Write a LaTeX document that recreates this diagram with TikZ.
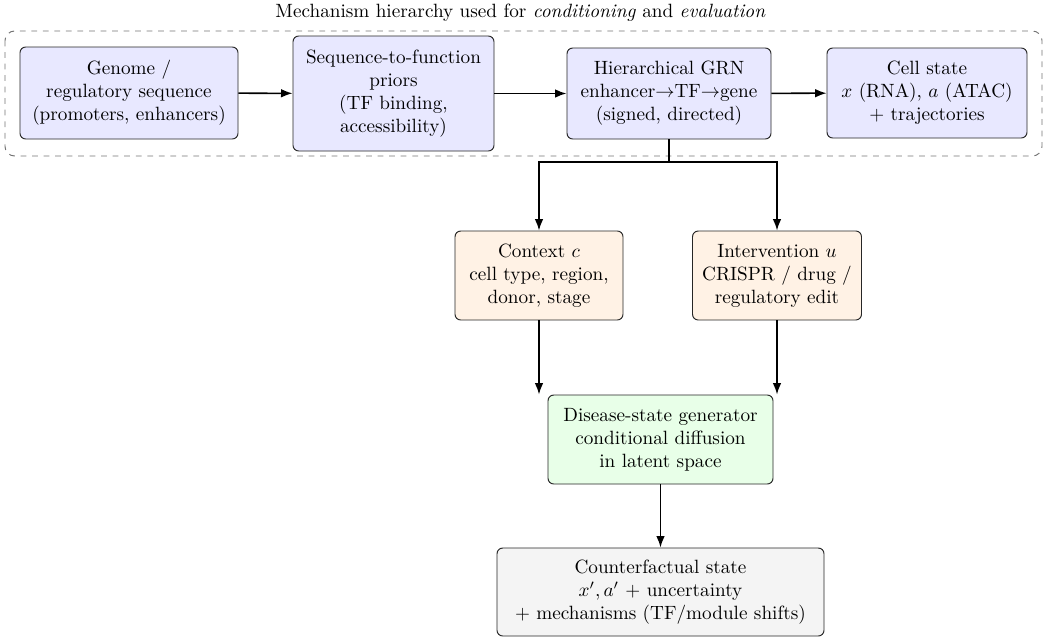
\documentclass[tikz,border=0pt]{standalone}
\usetikzlibrary{arrows.meta}
\begin{document}
\begin{tikzpicture}[x=0.5208pt,y=-0.5208pt,
  card/.style={draw=black!85, rounded corners=3pt, align=center, line width=0.5pt, inner sep=0pt},
  sz/.style 2 args={minimum width=#1*0.5208pt, minimum height=#2*0.5208pt},
  mech/.style={card, fill=blue!9},
  cond/.style={card, fill=orange!10},
  gen/.style={card, fill=green!9},
  outc/.style={card, fill=gray!9},
  flow/.style={-{Latex[length=6pt,width=4.5pt]}, line width=0.8pt},
  group/.style={draw=black!55, dashed, rounded corners=5pt, line width=0.5pt}]
\useasboundingbox (0,0) rectangle (1052,638);

% mechanism hierarchy group
\draw[group] (5,31) rectangle (1042,156);
\node (title) at (520.5,13) {Mechanism hierarchy used for \emph{conditioning} and \emph{evaluation}};

\node[mech, sz={218}{92}] (genome) at (129,93) {Genome /\\regulatory sequence\\(promoters, enhancers)};
\node[mech, sz={201}{115}] (seq) at (393.5,93.5) {Sequence-to-function\\priors\\(TF binding,\\accessibility)};
\node[mech, sz={204}{91}] (grn) at (669,93.5) {Hierarchical GRN\\enhancer$\to$TF$\to$gene\\(signed, directed)};
\node[mech, sz={200}{90}] (cell) at (927,93) {Cell state\\$x$ (RNA), $a$ (ATAC)\\+ trajectories};

% conditioning inputs
\node[cond, sz={168}{89}] (ctx) at (539,275.5) {Context $c$\\cell type, region,\\donor, stage};
\node[cond, sz={169}{89}] (int) at (777,275.5) {Intervention $u$\\CRISPR / drug /\\regulatory edit};

% generator and output
\node[gen, sz={225}{89}] (gen) at (660.5,439.5) {Disease-state generator\\conditional diffusion\\in latent space};
\node[outc, sz={327}{88}] (cf) at (660.5,592) {Counterfactual state\\$x',a'$ + uncertainty\\+ mechanisms (TF/module shifts)};

\coordinate (split) at (669,162);

\draw[flow] (genome) -- (seq);
\draw[flow] (seq) -- (grn);
\draw[flow] (grn) -- (cell);
\draw[line width=0.8pt] (grn.south) -- (split);
\draw[flow] (split) -| (ctx.north);
\draw[flow] (split) -| (int.north);
\draw[flow] (ctx.south) -- (ctx.south |- gen.north);
\draw[flow] (int.south) -- (int.south |- gen.north);
\draw[flow] (gen) -- (cf);
\end{tikzpicture}
\end{document}
